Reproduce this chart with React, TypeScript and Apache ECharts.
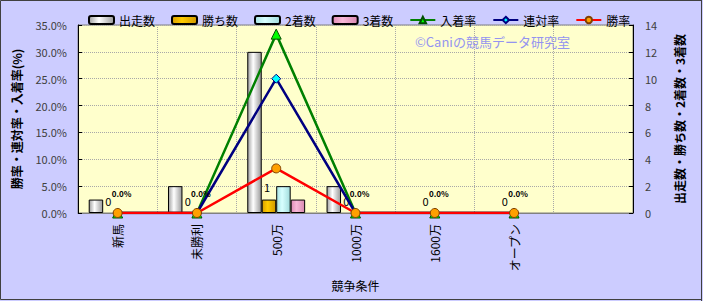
import React, { useEffect, useRef } from "react";
import * as echarts from "echarts";

const categories = ["新馬", "未勝利", "500万", "1000万", "1600万", "オープン", ""];
const starts = [1, 2, 12, 2, 0, 0, null];
const wins = [0, 0, 1, 0, 0, 0, null];
const seconds = [0, 0, 2, 0, 0, 0, null];
const thirds = [0, 0, 1, 0, 0, 0, null];
const placeRate = [0, 0, 33.3, 0, 0, 0, null];
const rentaiRate = [0, 0, 25.0, 0, 0, 0, null];
const winRate = [0, 0, 8.3, 0, 0, 0, null];
const leftTicks = { min: 0, max: 35, interval: 5 };
const rightTicks = { min: 0, max: 14, interval: 2 };

const FONT = "'Noto Sans CJK JP', 'Noto Sans', sans-serif";

function grad(edgeL: string, mid: string, edgeR: string) {
  return new echarts.graphic.LinearGradient(0, 0, 1, 0, [
    { offset: 0, color: edgeL },
    { offset: 0.4, color: mid },
    { offset: 1, color: edgeR },
  ]);
}

// zero-height bars get no border so they don't draw a black line on the axis
function barData(arr: (number | null)[]) {
  return arr.map((v) => (v === 0 ? { value: 0, itemStyle: { borderWidth: 0 } } : v));
}

export default function App() {
  const ref = useRef<HTMLDivElement>(null);
  useEffect(() => {
    if (!ref.current) return;
    const chart = echarts.init(ref.current, null, { renderer: "svg" });
    const barBase = {
      type: "bar",
      yAxisIndex: 1,
      barGap: "0%",
      barCategoryGap: "27%",
    };
    chart.setOption({
      animation: false,
      backgroundColor: "#CCCCFF",
      textStyle: { fontFamily: FONT },
      legend: {
        left: 83,
        top: 9,
        itemWidth: 25,
        itemHeight: 8,
        itemGap: 16,
        textStyle: { fontSize: 12, color: "#000", fontFamily: FONT },
        data: [
          { name: "出走数", icon: "roundRect" },
          { name: "勝ち数", icon: "roundRect" },
          { name: "2着数", icon: "roundRect" },
          { name: "3着数", icon: "roundRect" },
          "入着率",
          "連対率",
          "勝率",
        ],
      },
      grid: {
        left: 78,
        right: 70,
        top: 25,
        bottom: 88,
        show: true,
        backgroundColor: "#FFFFCC",
        borderColor: "#808080",
        borderWidth: 1,
      },
      graphic: [
        {
          type: "rect",
          silent: true,
          shape: { x: 0.5, y: 0.5, width: 701, height: 299 },
          style: { fill: "none", stroke: "#404040", lineWidth: 1 },
        },
        {
          type: "line",
          silent: true,
          shape: { x1: 701.5, y1: 0, x2: 701.5, y2: 301 },
          style: { stroke: "#404040", lineWidth: 1 },
        },
        {
          type: "text",
          left: 415,
          top: 35,
          silent: true,
          style: {
            text: "©Caniの競馬データ研究室",
            fill: "#9494F0",
            fontSize: 13,
            fontFamily: FONT,
          },
        },
      ],
      xAxis: {
        type: "category",
        data: categories,
        name: "競争条件",
        nameLocation: "middle",
        nameGap: 66,
        nameTextStyle: { fontSize: 12, color: "#000", fontFamily: FONT },
        axisLine: { lineStyle: { color: "#808080" } },
        axisTick: { show: false },
        axisLabel: { rotate: 90, margin: 11, fontSize: 12, color: "#000", fontFamily: FONT },
        splitLine: { show: true, lineStyle: { color: "#A8A8A8", type: "dotted" } },
      },
      yAxis: [
        {
          type: "value",
          ...leftTicks,
          name: "勝率・連対率・入着率(%)",
          nameLocation: "middle",
          nameGap: 56,
          nameRotate: 90,
          nameTextStyle: { fontSize: 12, color: "#000", fontWeight: "bold", fontFamily: FONT },
          axisLine: { show: true, lineStyle: { color: "#000" } },
          axisTick: { show: true, inside: true, length: 4, lineStyle: { color: "#000" } },
          axisLabel: {
            margin: 11,
            fontSize: 11,
            color: "#404040",
            fontFamily: FONT,
            formatter: (v: number) => v.toFixed(1) + "%",
          },
          splitLine: { show: true, lineStyle: { color: "#A8A8A8", type: "dotted" } },
        },
        {
          type: "value",
          ...rightTicks,
          position: "right",
          name: "出走数・勝ち数・2着数・3着数",
          nameLocation: "middle",
          nameGap: 40,
          nameRotate: 90,
          nameTextStyle: { fontSize: 12, color: "#000", fontWeight: "bold", fontFamily: FONT },
          axisLine: { show: true, lineStyle: { color: "#000" } },
          axisTick: { show: true, inside: true, length: 4, lineStyle: { color: "#000" } },
          axisLabel: { margin: 12, fontSize: 11, color: "#404040", fontFamily: FONT },
          splitLine: { show: false },
        },
      ],
      series: [
        {
          ...barBase,
          name: "出走数",
          data: barData(starts),
          itemStyle: { color: grad("#A0A0A0", "#FFFFFF", "#9A9A9A"), borderColor: "#000", borderWidth: 1 },
        },
        {
          ...barBase,
          name: "勝ち数",
          data: barData(wins),
          itemStyle: { color: grad("#D9A000", "#FFCC00", "#D09800"), borderColor: "#000", borderWidth: 1 },
          label: {
            show: true,
            position: "top",
            distance: 7,
            offset: [-2, 0],
            fontSize: 11,
            color: "#000",
            fontFamily: FONT,
          },
        },
        {
          ...barBase,
          name: "2着数",
          data: barData(seconds),
          itemStyle: { color: grad("#A8E4E4", "#D8FFFF", "#A0DCDC"), borderColor: "#000", borderWidth: 1 },
        },
        {
          ...barBase,
          name: "3着数",
          data: barData(thirds),
          itemStyle: { color: grad("#E08CB8", "#F8B8D8", "#D888B0"), borderColor: "#000", borderWidth: 1 },
        },
        {
          type: "line",
          name: "入着率",
          yAxisIndex: 0,
          data: placeRate,
          z: 5,
          symbol: "triangle",
          symbolSize: 10,
          lineStyle: { color: "#008000", width: 2.5 },
          itemStyle: { color: "#00FF00", borderColor: "#005000", borderWidth: 1 },
        },
        {
          type: "line",
          name: "連対率",
          yAxisIndex: 0,
          data: rentaiRate,
          z: 6,
          symbol: "diamond",
          symbolSize: 9,
          lineStyle: { color: "#000080", width: 2.5 },
          itemStyle: { color: "#00FFFF", borderColor: "#000080", borderWidth: 1 },
        },
        {
          type: "line",
          name: "勝率",
          yAxisIndex: 0,
          data: winRate,
          z: 7,
          symbol: "circle",
          symbolSize: 9,
          lineStyle: { color: "#FF0000", width: 2.5 },
          itemStyle: { color: "#FFA000", borderColor: "#804000", borderWidth: 1 },
          label: {
            show: true,
            position: "top",
            distance: 11,
            offset: [4, 0],
            fontSize: 8,
            fontWeight: "bold",
            color: "#000",
            fontFamily: FONT,
            formatter: (p: any) => (p.value === 0 ? "0.0%" : ""),
          },
        },
      ],
    });
    return () => chart.dispose();
  }, []);
  return (
    <div
      ref={ref}
      style={{ position: "absolute", left: 0, top: 0, width: 703, height: 301 }}
    />
  );
}
